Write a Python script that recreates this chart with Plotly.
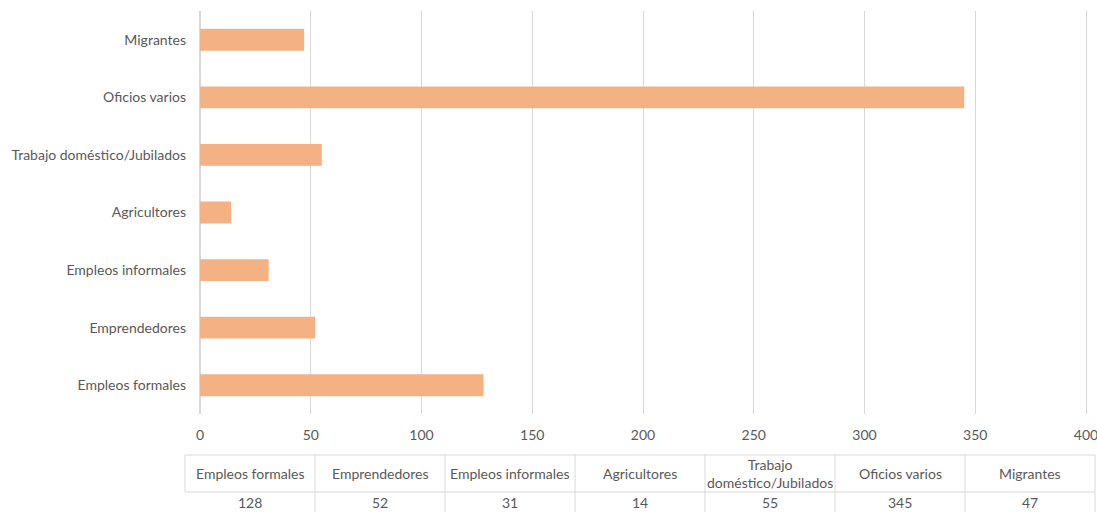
import plotly.graph_objects as go

categories = ["Empleos formales", "Emprendedores", "Empleos informales", "Agricultores",
              "Trabajo doméstico/Jubilados", "Oficios varios", "Migrantes"]
values = [128, 52, 31, 14, 55, 345, 47]
table_headers = ["Empleos formales", "Emprendedores", "Empleos informales", "Agricultores",
                 "Trabajo<br>doméstico/Jubilados", "Oficios varios", "Migrantes"]
x_ticks = [0, 50, 100, 150, 200, 250, 300, 350, 400]

W, H = 1097, 512
FONT = "Lato"
FS = 14
GRAY = "#595959"
LINE = "#d9d9d9"


def px(x):
    return x / W


def py(y):
    return 1 - y / H


fig = go.Figure()
fig.add_trace(go.Bar(
    x=values, y=categories, orientation="h",
    marker=dict(color="#F4B183", line=dict(width=0)),
    width=0.38, hoverinfo="x+y",
))

# data table under the chart
tbl_left, col_w = 185, 130
tbl_top, tbl_mid, tbl_bot = 455, 492, 512
n = len(categories)
shapes = []
for yy in (tbl_top, tbl_mid):
    shapes.append(dict(type="line", xref="paper", yref="paper",
                       x0=px(tbl_left), x1=px(tbl_left + n * col_w), y0=py(yy), y1=py(yy),
                       line=dict(color=LINE, width=1)))
for i in range(n + 1):
    xx = tbl_left + i * col_w
    shapes.append(dict(type="line", xref="paper", yref="paper",
                       x0=px(xx), x1=px(xx), y0=py(tbl_top),
                       y1=py(tbl_mid if i == 0 else tbl_bot),
                       line=dict(color=LINE, width=1)))
annotations = []
for i, (hdr, val) in enumerate(zip(table_headers, values)):
    xc = tbl_left + (i + 0.5) * col_w
    annotations.append(dict(x=px(xc), y=py((tbl_top + tbl_mid) / 2), xref="paper", yref="paper",
                            text=hdr, showarrow=False, xanchor="center", yanchor="middle",
                            font=dict(family=FONT, size=FS, color=GRAY)))
    annotations.append(dict(x=px(xc), y=py(502), xref="paper", yref="paper",
                            text=str(val), showarrow=False, xanchor="center", yanchor="middle",
                            font=dict(family=FONT, size=FS, color=GRAY)))

# x axis: 0 at 200px, 400 at 1086px; range padded slightly so the 400 tick is kept
x0_px, x400_px = 200, 1086
ppu = (x400_px - x0_px) / 400
x_max = 403
fig.update_layout(
    width=W, height=H,
    margin=dict(l=0, r=0, t=0, b=0, autoexpand=False),
    paper_bgcolor="white", plot_bgcolor="white",
    showlegend=False,
    font=dict(family=FONT, size=FS, color=GRAY),
    shapes=shapes, annotations=annotations,
)
fig.update_xaxes(domain=[px(x0_px), px(x0_px + x_max * ppu)], range=[0, x_max],
                 tickvals=x_ticks, ticklabeloverflow="allow",
                 showgrid=True, gridcolor=LINE, gridwidth=1, zeroline=True,
                 zerolinecolor=LINE, showline=False, ticks="", automargin=False,
                 tickfont=dict(size=FS, color=GRAY), ticklabelstandoff=11)
fig.update_yaxes(domain=[py(414), py(11)], categoryorder="array",
                 categoryarray=categories, showgrid=False, automargin=False,
                 ticks="", showline=False, tickfont=dict(size=FS, color=GRAY),
                 ticklabelstandoff=13)

fig.write_html("out.html",
               config={"displayModeBar": False},
               post_script="document.body.style.margin='0';document.body.style.overflow='hidden';")
